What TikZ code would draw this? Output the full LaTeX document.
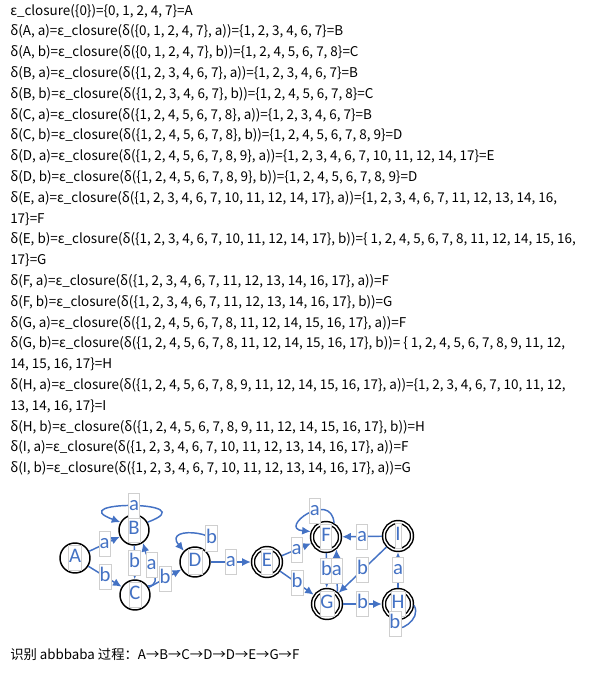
\documentclass[tikz,border=0pt]{standalone}
\usepackage{fontspec}
\setmainfont{Noto Sans CJK SC}
\newfontfamily\diagfont{Carlito}
\usetikzlibrary{arrows.meta}
\definecolor{edgeblue}{HTML}{4472C4}
\definecolor{boxgray}{HTML}{CFCFCF}
\tikzset{%
  >={Latex[width=6pt,length=6.5pt]},
  % Specifications for style of nodes:
      rowtext/.style = {anchor=base west, inner sep=0pt,
                        font=\fontsize{10.1}{11}\selectfont},
        state/.style = {circle, draw=black, line width=1.1pt,
                        minimum size=22.5pt, inner sep=0pt},
       accept/.style = {state, double, double distance=1.1pt,
                        minimum size=21pt, outer sep=1.6pt},
    letterbox/.style = {fill=white, draw=boxgray, line width=0.5pt,
                        text=edgeblue, font=\diagfont\fontsize{15.5}{15.5}\selectfont,
                        inner xsep=0.4pt, inner ysep=2.5pt,
                        text height=10.5pt, text depth=3.5pt},
          lbl/.style = {letterbox},
         move/.style = {->, draw=edgeblue, line width=1.1pt},
}

\begin{document}
\begin{tikzpicture}[x=0.75pt, y=-0.75pt]
    \useasboundingbox (0,0) rectangle (590,675);

    % subset construction, one row per line
    \foreach \txt [count=\i] in {
        {ε\_closure(\{0\})=\{0, 1, 2, 4, 7\}=A},
        {δ(A, a)=ε\_closure(δ(\{0, 1, 2, 4, 7\}, a))=\{1, 2, 3, 4, 6, 7\}=B},
        {δ(A, b)=ε\_closure(δ(\{0, 1, 2, 4, 7\}, b))=\{1, 2, 4, 5, 6, 7, 8\}=C},
        {δ(B, a)=ε\_closure(δ(\{1, 2, 3, 4, 6, 7\}, a))=\{1, 2, 3, 4, 6, 7\}=B},
        {δ(B, b)=ε\_closure(δ(\{1, 2, 3, 4, 6, 7\}, b))=\{1, 2, 4, 5, 6, 7, 8\}=C},
        {δ(C, a)=ε\_closure(δ(\{1, 2, 4, 5, 6, 7, 8\}, a))=\{1, 2, 3, 4, 6, 7\}=B},
        {δ(C, b)=ε\_closure(δ(\{1, 2, 4, 5, 6, 7, 8\}, b))=\{1, 2, 4, 5, 6, 7, 8, 9\}=D},
        {δ(D, a)=ε\_closure(δ(\{1, 2, 4, 5, 6, 7, 8, 9\}, a))=\{1, 2, 3, 4, 6, 7, 10, 11, 12, 14, 17\}=E},
        {δ(D, b)=ε\_closure(δ(\{1, 2, 4, 5, 6, 7, 8, 9\}, b))=\{1, 2, 4, 5, 6, 7, 8, 9\}=D},
        {δ(E, a)=ε\_closure(δ(\{1, 2, 3, 4, 6, 7, 10, 11, 12, 14, 17\}, a))=\{1, 2, 3, 4, 6, 7, 11, 12, 13, 14, 16,},
        {17\}=F},
        {δ(E, b)=ε\_closure(δ(\{1, 2, 3, 4, 6, 7, 10, 11, 12, 14, 17\}, b))=\{ 1, 2, 4, 5, 6, 7, 8, 11, 12, 14, 15, 16,},
        {17\}=G},
        {δ(F, a)=ε\_closure(δ(\{1, 2, 3, 4, 6, 7, 11, 12, 13, 14, 16, 17\}, a))=F},
        {δ(F, b)=ε\_closure(δ(\{1, 2, 3, 4, 6, 7, 11, 12, 13, 14, 16, 17\}, b))=G},
        {δ(G, a)=ε\_closure(δ(\{1, 2, 4, 5, 6, 7, 8, 11, 12, 14, 15, 16, 17\}, a))=F},
        {δ(G, b)=ε\_closure(δ(\{1, 2, 4, 5, 6, 7, 8, 11, 12, 14, 15, 16, 17\}, b))= \{ 1, 2, 4, 5, 6, 7, 8, 9, 11, 12,},
        {14, 15, 16, 17\}=H},
        {δ(H, a)=ε\_closure(δ(\{1, 2, 4, 5, 6, 7, 8, 9, 11, 12, 14, 15, 16, 17\}, a))=\{1, 2, 3, 4, 6, 7, 10, 11, 12,},
        {13, 14, 16, 17\}=I},
        {δ(H, b)=ε\_closure(δ(\{1, 2, 4, 5, 6, 7, 8, 9, 11, 12, 14, 15, 16, 17\}, b))=H},
        {δ(I, a)=ε\_closure(δ(\{1, 2, 3, 4, 6, 7, 10, 11, 12, 13, 14, 16, 17\}, a))=F},
        {δ(I, b)=ε\_closure(δ(\{1, 2, 3, 4, 6, 7, 10, 11, 12, 13, 14, 16, 17\}, a))=G}}
        \node[rowtext] (row\i) at (10, {15+20.8*(\i-1)}) {\txt};

    % states
    \node (A) [state,  label={[letterbox]center:A}] at (75,558)  {};
    \node (B) [state,  label={[letterbox]center:B}] at (134,530) {};
    \node (C) [state,  label={[letterbox]center:C}] at (135,595) {};
    \node (D) [state,  label={[letterbox]center:D}] at (195,562) {};
    \node (E) [accept, label={[letterbox]center:E}] at (267,562) {};
    \node (F) [accept, label={[letterbox]center:F}] at (326,537) {};
    \node (G) [accept, label={[letterbox]center:G}] at (327,604) {};
    \node (H) [accept, label={[letterbox]center:H}] at (398,604) {};
    \node (I) [accept, label={[letterbox]center:I}] at (398,536) {};

    % transitions
    \draw[move] (A) -- node[lbl] {a} (B);
    \draw[move] (A) -- node[lbl] {b} (C);
    \draw[move] (B.30) to[out=20, in=160, looseness=6] node[lbl] {a} (B.150);
    \draw[move] (B) -- node[lbl] {b} (C);
    \draw[move] (C.35) to[out=0, in=-75] node[lbl, pos=0.6] {a} (B.-55);
    \draw[move] (C) -- node[lbl] {b} (D);
    \draw[move] (D.40) to[out=30, in=130, looseness=4] node[lbl, pos=0.3] {b} (D.135);
    \draw[move] (D) -- node[lbl] {a} (E);
    \draw[move] (E) -- node[lbl] {a} (F);
    \draw[move] (E) -- node[lbl] {b} (G);
    \draw[move] (F.60) to[out=95, in=175, looseness=3.5] node[lbl, pos=0.4] {a} (F.160);
    \draw[move] (F) -- node[lbl] {b} (G);
    \draw[move] (G.50) -- node[lbl] {a} (F.-50);
    \draw[move] (I) -- node[lbl] {a} (F);
    \draw[move] (I) -- node[lbl] {b} (G);
    \draw[move] (H) -- node[lbl] {a} (I);
    \draw[move] (G) -- node[lbl] {b} (H);
    \draw[move] (H.-5) to[out=-60, in=-70, looseness=1.6] node[lbl, pos=0.85] {b} (H.-115);

    % recognition of the input string
    \node[rowtext, font=\fontsize{10}{12}\selectfont] (trace) at (10,659)
        {识别 abbbaba 过程：A→B→C→D→D→E→G→F};
\end{tikzpicture}
\end{document}
